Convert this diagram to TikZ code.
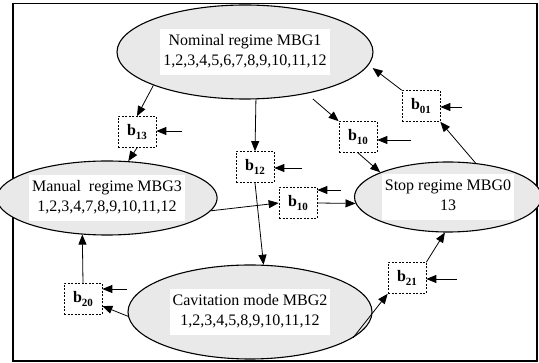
\documentclass[tikz,border=0pt]{standalone}
\usepackage{fontspec}
\setmainfont{Liberation Serif}
\usetikzlibrary{shapes.geometric,arrows.meta,calc}
\newcommand\mylab[1]{{\setlength\fboxsep{3pt}\colorbox{white}{\begin{tabular}{@{}c@{}}#1\end{tabular}}}}
\newcommand\bsub[2]{\textbf{#1}\raisebox{-3.5pt}{\fontsize{11}{11}\selectfont\bfseries #2}}
\begin{document}
\begin{tikzpicture}[x=1pt,y=-1pt,
  ell/.style={ellipse, draw, line width=1.1pt, fill=gray!17, inner sep=0pt,
    font=\fontsize{16}{20}\selectfont},
  bx/.style={draw, dash pattern=on 2pt off 1.5pt, line width=0.7pt, fill=white,
    minimum width=38pt, minimum height=31pt, inner sep=0pt,
    font=\fontsize{16}{19}\selectfont},
  con/.style={line width=0.8pt, -{Triangle[length=10pt,width=8pt]}}]
\useasboundingbox (0,0) rectangle (539,363);
\draw[line width=1.3pt] (13,3.5) rectangle (537,361);

\node[ell, minimum width=256pt, minimum height=94pt] (nom) at (245,52)
  {\mylab{Nominal regime MBG1\\1,2,3,4,5,6,7,8,9,10,11,12}};
\node[ell, minimum width=188pt, minimum height=74pt] (man) at (107,198)
  {\mylab{Manual\ \ regime MBG3\\1,2,3,4,7,8,9,10,11,12}};
\node[ell, minimum width=160pt, minimum height=70pt] (stop) at (448,197)
  {\mylab{Stop regime MBG0\\13}};
\node[ell, minimum width=244pt, minimum height=94pt] (cav) at (250,312)
  {\mylab{Cavitation mode MBG2\\1,2,3,4,5,8,9,10,11,12}};

\node[bx] (b13) at (137,132) {\bsub{b}{13}};
\node[bx] (b12) at (255,167) {\bsub{b}{12}};
\node[bx] (b10u) at (358,137) {\bsub{b}{10}};
\node[bx] (b01) at (421,106) {\bsub{b}{01}};
\node[bx] (b10l) at (298,203) {\bsub{b}{10}};
\node[bx] (b20) at (83,299) {\bsub{b}{20}};
\node[bx] (b21) at (407,278) {\bsub{b}{21}};

\coordinate (i13) at (182,131);
\coordinate (i12) at (302,168);
\coordinate (i10u) at (411,140);
\coordinate (i01) at (462,107);
\coordinate (i10l) at (341,190);
\coordinate (i20) at (127,289);
\coordinate (i21) at (457,279);
\foreach \c/\b in {i13/b13,i12/b12,i10u/b10u,i01/b01,i10l/b10l,i20/b20,i21/b21}
  \draw[con] (\c) -- (\c -| \b.east);

\draw[con] (nom.200) -- (b13.north);
\draw[con] (b13.south) -- (man.60);
\draw[con] (nom.283.5) -- (b12.north);
\draw[con] (b12.south) -- (cav.74.5);
\draw[con, shorten <=8pt] (nom.-34.4) -- (b10u.north west);
\draw[con] (b10u.south) -- (stop.160);
\draw[con] (stop.51) -- (b01.south east);
\draw[con, shorten >=5pt] (b01.north west) -- (nom.-6);
\draw[con] (man.-7) -- (b10l.west);
\draw[con] (b10l.east) -- (stop.184);
\draw[con] (cav.182) -- (b20.-20);
\draw[con] (b20.north) -- (man.236);
\draw[con] (cav.-14.5) -- (b21.south west);
\draw[con] (b21.north east) -- (stop.265);
\end{tikzpicture}
\end{document}
